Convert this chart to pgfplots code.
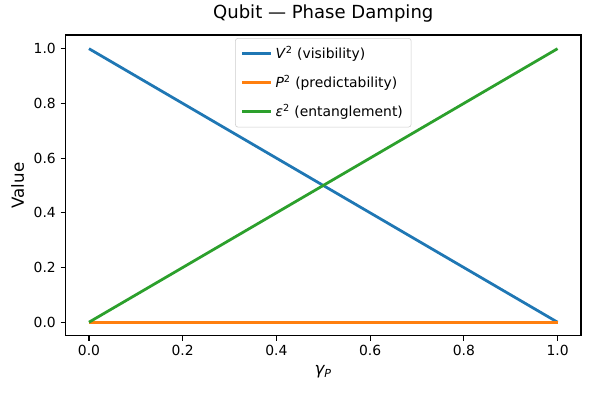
\documentclass[border=0pt]{standalone}
\usepackage{fontspec}
\setmainfont{DejaVu Sans}
\usepackage{pgfplots}
\pgfplotsset{compat=1.18}
\usetikzlibrary{calc}
\definecolor{tabblue}{HTML}{1F77B4}
\definecolor{taborange}{HTML}{FF7F0E}
\definecolor{tabgreen}{HTML}{2CA02C}
\begin{document}
\begin{tikzpicture}
\begin{axis}[
    scale only axis, width=371.2pt, height=216.7pt,
    xmin=-0.05, xmax=1.05, ymin=-0.05, ymax=1.05,
    xtick={0,0.2,...,1.0}, ytick={0,0.2,...,1.0},
    tick align=outside, major tick length=3.5pt,
    tick style={line width=0.8pt, black},
    axis line style={line width=0.8pt},
    xtick pos=bottom, ytick pos=left,
    tick label style={font=\fontsize{10}{12}\selectfont},
    /pgf/number format/assume math mode=true,
    xticklabel style={/pgf/number format/fixed, /pgf/number format/precision=1, /pgf/number format/zerofill},
    yticklabel style={/pgf/number format/fixed, /pgf/number format/precision=1, /pgf/number format/zerofill},
    xlabel={\textit{γ\textsubscript{P}}}, ylabel={Value},
    label style={font=\fontsize{12}{14}\selectfont},
    title={Qubit — Phase Damping},
    title style={font=\fontsize{13}{15}\selectfont, at={(0.5,1)}, anchor=base, yshift=6pt},
    legend style={at={(0.5,0.99)}, anchor=north, draw=black!20, rounded corners=2pt,
        fill=white, fill opacity=0.8, text opacity=1,
        font=\fontsize{10}{12}\selectfont, row sep=6.5pt, inner xsep=4pt, inner ysep=4pt},
    legend cell align=left,
    legend image code/.code={\draw[#1] (0pt,0pt) -- (21pt,0pt);},
]
\addplot[tabblue, line width=2pt] coordinates {(0,1) (1,0)};
\addlegendentry{\textit{V}\textsuperscript{2} (visibility)}
\addplot[taborange, line width=2pt] coordinates {(0,0) (1,0)};
\addlegendentry{\textit{P}\textsuperscript{2} (predictability)}
\addplot[tabgreen, line width=2pt] coordinates {(0,0) (1,1)};
\addlegendentry{\textit{ε}\textsuperscript{2} (entanglement)}
\end{axis}
\useasboundingbox ($(current axis.south west)+(-47.2pt,-41pt)$) rectangle ($(current axis.north east)+(6.5pt,23pt)$);
\end{tikzpicture}
\end{document}
